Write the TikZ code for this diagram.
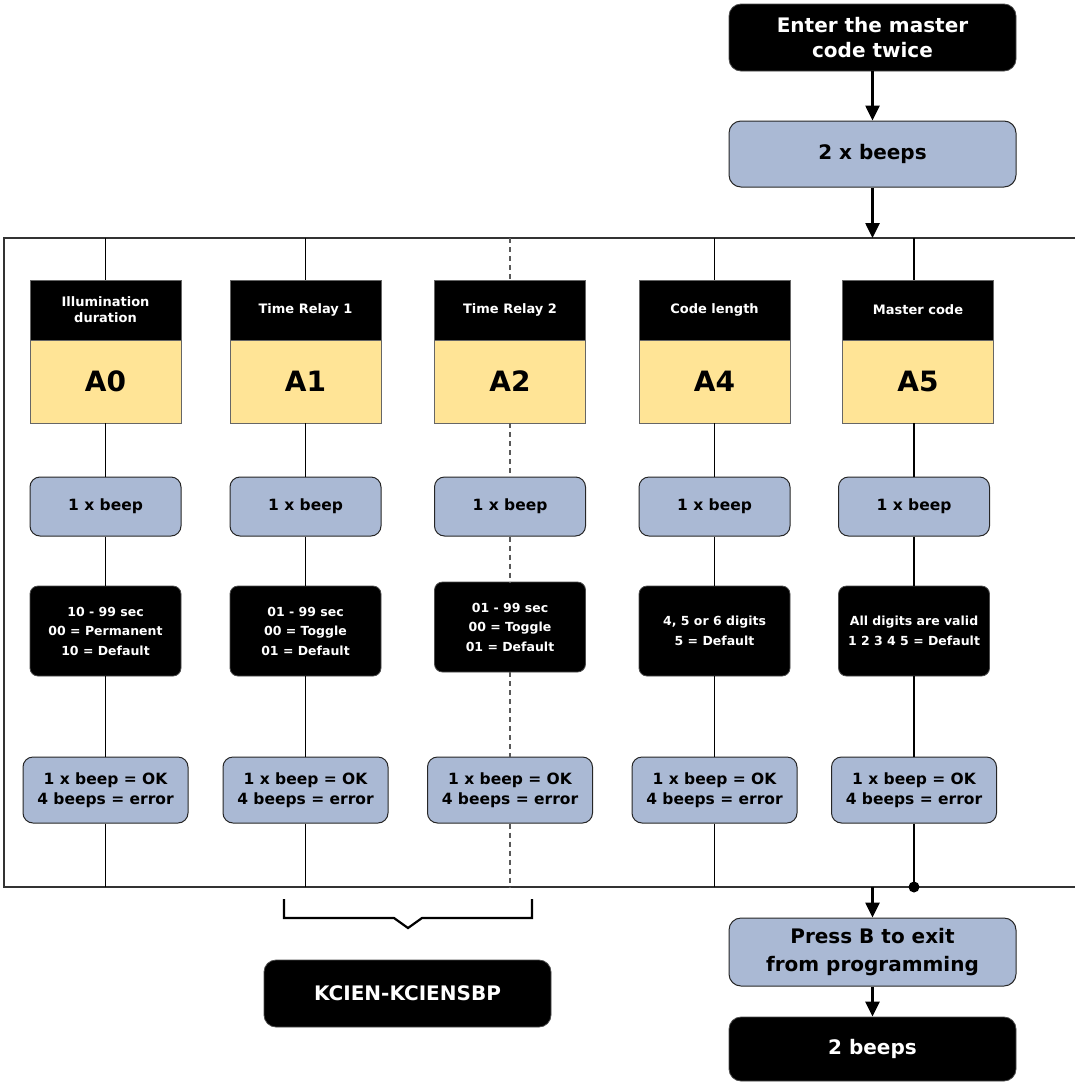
\documentclass[tikz,border=0pt]{standalone}
\usepackage{fontspec}
\setmainfont{DejaVu Sans}
\usetikzlibrary{arrows.meta}
\definecolor{bluebox}{RGB}{170,185,212}
\definecolor{yellowbox}{RGB}{255,228,150}
\tikzset{
  blk/.style={fill=black,text=white,draw=black!70,line width=0.8pt,align=center,font=\bfseries},
  bluep/.style={fill=bluebox,draw=black!85,line width=1pt,rounded corners=10pt,align=center,font=\bfseries},
  hdr/.style={fill=black,text=white,draw=black!60,line width=0.8pt,minimum width=151pt,minimum height=60pt,inner sep=0pt,align=center,font=\bfseries\fontsize{13}{16}\selectfont},
  ylw/.style={fill=yellowbox,draw=black!60,line width=0.8pt,minimum width=151pt,minimum height=83pt,inner sep=0pt,font=\bfseries\fontsize{28}{30}\selectfont},
  beepbox/.style={bluep,minimum width=151pt,minimum height=59pt,inner sep=0pt,font=\bfseries\fontsize{15.5}{18}\selectfont},
  valbox/.style={blk,rounded corners=8pt,minimum width=151pt,minimum height=90pt,inner sep=0pt,font=\bfseries\fontsize{12.5}{19.5}\selectfont},
  resbox/.style={bluep,minimum width=165pt,minimum height=66pt,inner sep=0pt,font=\bfseries\fontsize{15.5}{20}\selectfont},
  bigbox/.style={minimum width=287pt,inner sep=0pt,rounded corners=12pt,font=\bfseries\fontsize{20}{25}\selectfont},
  colline/.style={line width=1.8pt,black},
  arr/.style={line width=2.6pt,-{Triangle[width=14pt,length=15pt]}},
}
\begin{document}
\begin{tikzpicture}[x=1pt,y=-1pt]
\useasboundingbox (0,0) rectangle (1074,1082);
% big frame
\draw[black!80,line width=1.3pt] (1080,238) -- (4,238) -- (4,887) -- (1080,887);

% columns
\foreach \i/\x/\hx/\head/\code/\val/\vy in {
  0/105.5/105.5/{Illumination\\duration}/A0/{10 - 99 sec\\00 = Permanent\\10 = Default}/631,
  1/305.5/305.5/{Time Relay 1}/A1/{01 - 99 sec\\00 = Toggle\\01 = Default}/631,
  2/510/510/{Time Relay 2}/A2/{01 - 99 sec\\00 = Toggle\\01 = Default}/627,
  4/714.5/714.5/{Code length}/A4/{4, 5 or 6 digits\\5 = Default}/631,
  5/914/918/{Master code}/A5/{All digits are valid\\1 2 3 4 5 = Default}/631}{
  \coordinate (t\i) at (\x,238);
  \coordinate (b\i) at (\x,887);
  \node[hdr] (h\i) at (\hx,310) {\head};
  \node[ylw] (y\i) at (\hx,381.5) {\code};
  \node[beepbox] (bp\i) at (\x,506.5) {1 x beep};
  \node[valbox] (v\i) at (\x,\vy) {\val};
  \node[resbox] (r\i) at (\x,790) {1 x beep = OK\\4 beeps = error};
}
\foreach \i in {0,1,4,5}{
  \draw[colline] (t\i) -- (t\i|-h\i.north);
  \draw[colline] (y\i.south-|t\i) -- (bp\i);
  \draw[colline] (bp\i) -- (v\i);
  \draw[colline] (v\i) -- (r\i);
  \draw[colline] (r\i) -- (b\i);
}
\begin{scope}[black!65,line width=1.3pt,dash pattern=on 5pt off 4pt]
  \draw (t2) -- (h2.north);
  \draw (y2) -- (bp2);
  \draw (bp2) -- (v2);
  \draw (v2) -- (r2);
  \draw (r2) -- (b2);
\end{scope}
\fill (b5) circle (5.5pt);

% top flow
\node[blk,bigbox,minimum height=67pt] (enter) at (872.5,37.5) {Enter the master\\code twice};
\node[bluep,bigbox,minimum height=66pt] (two) at (872.5,154) {2 x beeps};
\coordinate (in) at (872.5,238);
\draw[arr] (enter) -- (two);
\draw[arr] (two) -- (in);

% bottom flow
\coordinate (out) at (872.5,887);
\node[bluep,bigbox,minimum height=68pt,font=\bfseries\fontsize{20}{28}\selectfont] (press) at (872.5,952) {Press B to exit\\from programming};
\node[blk,bigbox,minimum height=64pt] (twob) at (872.5,1049) {2 beeps};
\draw[arr] (out) -- (press);
\draw[arr] (press) -- (twob);

% brace and model
\draw[line width=2.2pt] (284,899) -- (284,918) -- (394,918) -- (408,928) -- (422,918) -- (532,918) -- (532,899);
\node[blk,bigbox,minimum height=67pt] (model) at (407.5,993.5) {KCIEN-KCIENSBP};
\end{tikzpicture}
\end{document}
